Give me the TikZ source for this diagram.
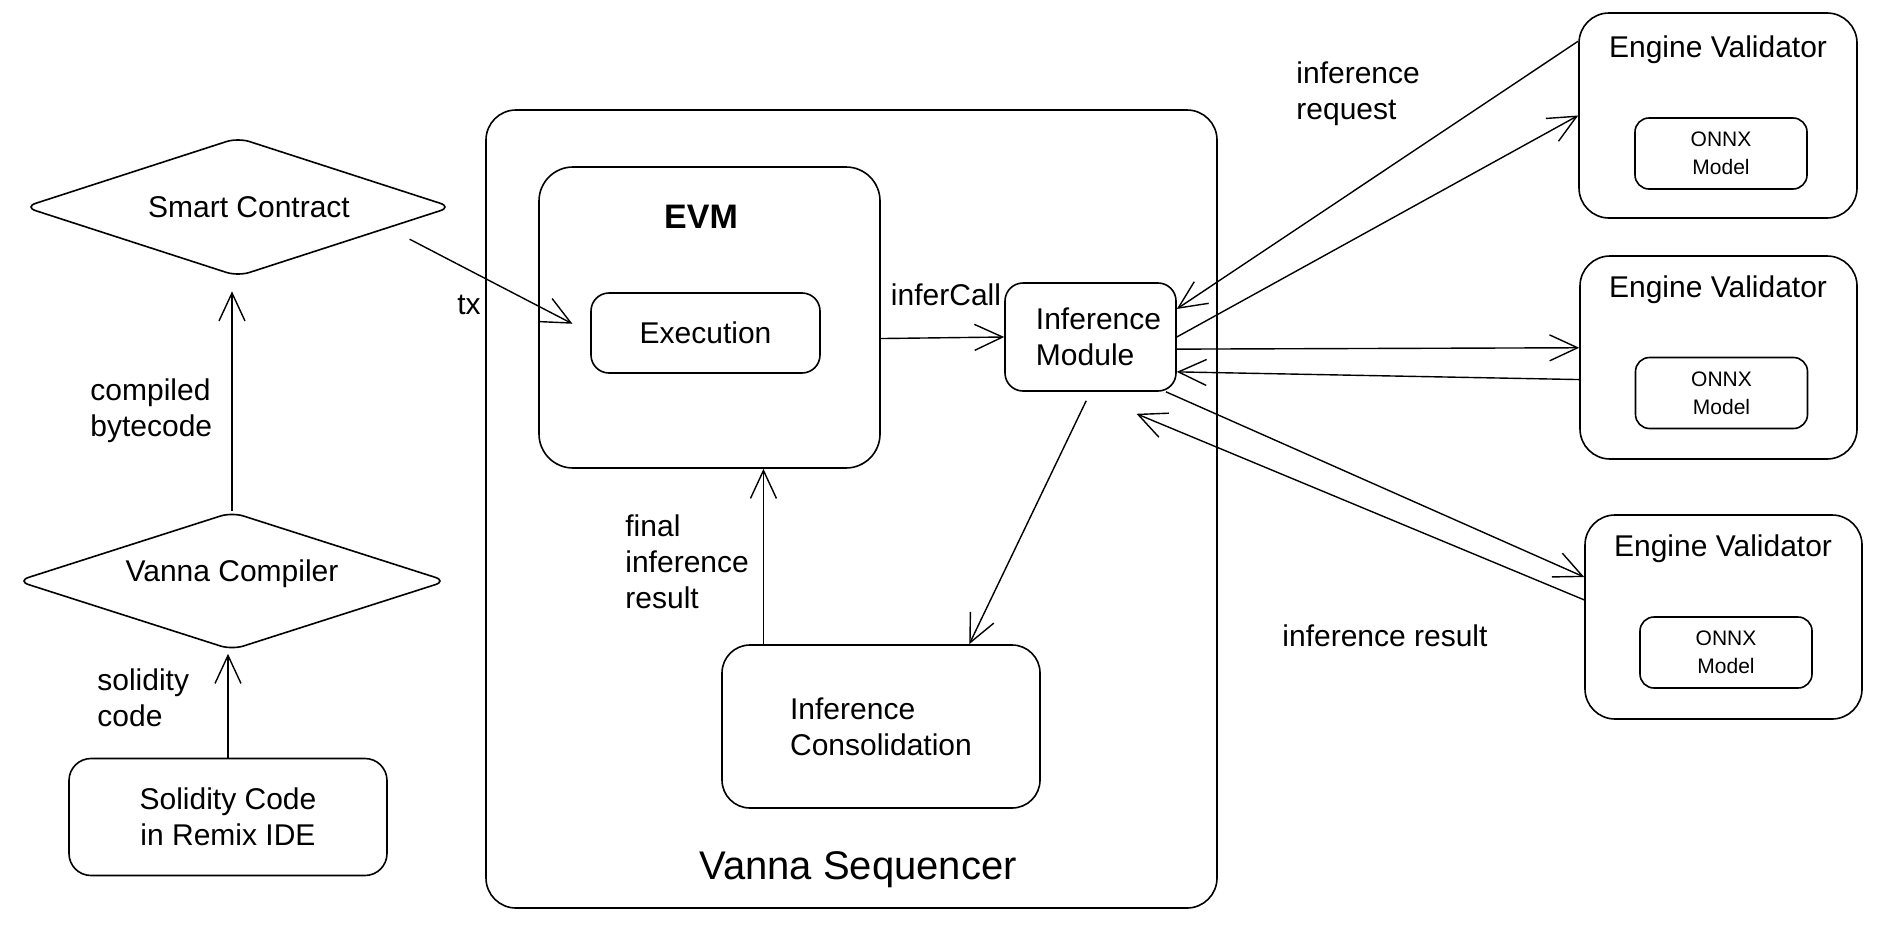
\documentclass[tikz,border=0pt]{standalone}
\usepackage{fontspec}
\setmainfont{Liberation Sans}
\usetikzlibrary{shapes.geometric,arrows.meta}

\tikzset{
  box/.style={draw, line width=0.8pt, rounded corners=#1, inner sep=0pt},
  box/.default=9pt,
  decision/.style={draw, diamond, aspect=3, line width=0.8pt, rounded corners=6pt, inner sep=0pt},
  model/.style={box=7pt, minimum width=86pt, minimum height=35.5pt, align=center,
    font=\fontsize{10.5}{14}\selectfont},
  lbl/.style={inner sep=0pt, align=left},
  arr/.style={line width=0.7pt, -{Straight Barb[length=14pt,width=13pt]}}
}

\begin{document}
\begin{tikzpicture}[x=0.5pt, y=-0.5pt, font=\fontsize{15}{18}\selectfont]
  \useasboundingbox (0,0) rectangle (1894,942);

  % left column
  \node[decision, minimum width=214pt, minimum height=69.5pt] (sc) at (238,207) {\hspace*{11pt}Smart Contract};
  \node[decision, minimum width=215pt, minimum height=69pt] (vc) at (232,581) {\raisebox{10pt}{Vanna Compiler}};
  \node[box=11pt, minimum width=159pt, minimum height=58.5pt, align=center] (sol) at (228,817) {Solidity Code\\in Remix IDE};

  \node[lbl, anchor=west] (bytecode) at (90,411) {compiled\\bytecode};
  \node[lbl, anchor=west] (solcode) at (97,698) {solidity\\code};
  \node[lbl] (tx) at (469,305) {tx};

  % Vanna sequencer
  \node[box=15pt, minimum width=365.5pt, minimum height=399pt] (seq) at (851.5,509) {};
  \node[font=\fontsize{20}{24}\selectfont] (seqt) at (858,870) {Vanna Sequencer};
  \node[box=17pt, minimum width=170.5pt, minimum height=150.5pt] (evm) at (709.5,317.5) {};
  \node[font=\fontsize{17}{20}\selectfont\bfseries] (evmt) at (701,217) {EVM};
  \node[box=9pt, minimum width=114.5pt, minimum height=40pt] (exec) at (705.5,333) {Execution};
  \node[box=9pt, minimum width=85.5pt, minimum height=54pt, align=left] (im) at (1090.5,337) {\hspace*{8pt}Inference\\\hspace*{8pt}Module};
  \node[box=14pt, minimum width=159pt, minimum height=81.5pt, align=left] (cons) at (881,726.5) {Inference\\Consolidation};

  \node[lbl] (infercall) at (946,295) {inferCall};
  \node[lbl, anchor=west] (finalres) at (625,562) {final\\inference\\result};

  % engine validators
  \node[box=15pt, minimum width=139pt, minimum height=102.5pt] (ev1) at (1718,115.5) {};
  \node (ev1t) at (1718,50) {Engine Validator};
  \node[model] (onnx1) at (1721,153.5) {ONNX\\Model};

  \node[box=15pt, minimum width=138.5pt, minimum height=101.5pt] (ev2) at (1718.5,357.5) {};
  \node (ev2t) at (1718,290) {Engine Validator};
  \node[model] (onnx2) at (1721.5,393) {ONNX\\Model};

  \node[box=15pt, minimum width=138.5pt, minimum height=102pt] (ev3) at (1723.5,617) {};
  \node (ev3t) at (1723,549) {Engine Validator};
  \node[model] (onnx3) at (1726,652.5) {ONNX\\Model};

  \node[lbl, anchor=west] (request) at (1296,94) {inference\\request};
  \node[lbl, anchor=west] (result) at (1282,636) {inference result};

  % arrows
  \draw[arr] (sol.north) -- ([yshift=-1.5pt]sol.north |- vc.south);
  \draw[arr] (vc.north) -- ([yshift=-7pt]vc.north |- sc.south);
  \draw[arr, shorten <=12pt, shorten >=10pt] (sc.-8) -- (exec.west);
  \draw[arr] (evm.-7) -- (im.west);
  \draw[arr, shorten <=5pt] (im.south) -- (cons.43);
  \draw[arr] (cons.145) -- (cons.145 |- evm.south);

  \draw[arr] (ev1.152) -- (im.18);
  \draw[arr] (im.east) -- (ev1.west);
  \draw[arr] (im.-8) -- (ev2.176);
  \draw[arr] (ev2.189) -- (im.-22);
  \draw[arr] (im.-36) -- (ev3.164);
  \draw[arr] (ev3.173) -- ([yshift=-11pt]im.-50);
\end{tikzpicture}
\end{document}
